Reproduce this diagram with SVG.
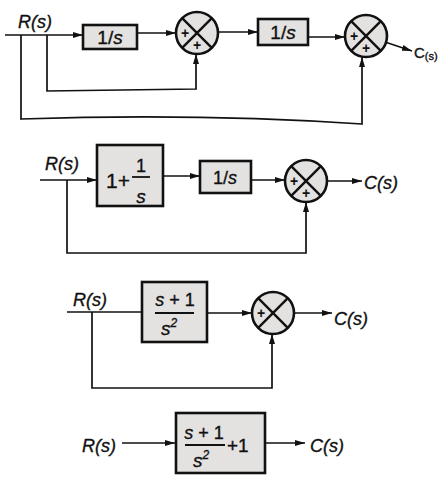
<svg xmlns="http://www.w3.org/2000/svg" width="441" height="481" viewBox="0 0 441 481">
<style>
.ln{fill:none;stroke:#111;stroke-width:1.7}
.arr{marker-end:url(#ah)}
.box{fill:#e4e2e0;stroke:#111;stroke-width:2.6}
.sum{fill:#e4e2e0;stroke:#111;stroke-width:2.6}
.x{stroke:#111;stroke-width:2.4}
.t{font-family:"Liberation Sans",Arial,sans-serif;fill:#111;stroke:#111;stroke-width:0.35}
.i{font-style:italic}
.pl{font-family:"Liberation Sans",Arial,sans-serif;font-size:14px;font-weight:bold;fill:#111;text-anchor:middle}
</style>
<defs>
<marker id="ah" viewBox="0 0 10 6" refX="10" refY="3" markerWidth="10" markerHeight="6" markerUnits="userSpaceOnUse" orient="auto">
<path d="M0,0 L10,3 L0,6 Z" fill="#111"/>
</marker>
</defs>
<rect width="441" height="481" fill="#fff"/>

<g id="connectors">
<!-- diagram 1 -->
<path class="ln arr" d="M5,35 H83"/>
<path class="ln arr" d="M137,33 H176"/>
<path class="ln arr" d="M218,32 H258"/>
<path class="ln arr" d="M308,37 H345"/>
<path class="ln arr" d="M385,42 L412,51"/>
<path class="ln arr" d="M47,35 V91 L196,89 V54"/>
<path class="ln arr" d="M21,35 V119 Q200,113 362,124 V57"/>
<!-- diagram 2 -->
<path class="ln arr" d="M40,180 H97"/>
<path class="ln arr" d="M163,176 H200"/>
<path class="ln arr" d="M251,180 H285"/>
<path class="ln arr" d="M327,181 H362"/>
<path class="ln arr" d="M67,180 V253 H306 V202"/>
<!-- diagram 3 -->
<path class="ln" d="M67,312 H142"/>
<path class="ln arr" d="M207,313 H252"/>
<path class="ln arr" d="M294,313 H332"/>
<path class="ln arr" d="M92,312 V388 H272 V334"/>
<!-- diagram 4 -->
<path class="ln arr" d="M122,443 H175"/>
<path class="ln arr" d="M265,443 H305"/>
</g>

<!-- diagram 1 nodes -->
<g id="d1-R"><text class="t i" x="18" y="28" font-size="18">R(s)</text></g>
<g id="d1-box1">
<rect class="box" x="83" y="25" width="54" height="24"/>
<text class="t" x="110" y="44" font-size="19" text-anchor="middle">1/<tspan class="i">s</tspan></text>
</g>
<g id="d1-sum1">
<circle class="sum" cx="197" cy="33" r="21"/>
<path class="x" d="M182.2,18.2 L211.8,47.8 M211.8,18.2 L182.2,47.8"/>
<text class="pl" x="185" y="38">+</text>
<text class="pl" x="197" y="50">+</text>
</g>
<g id="d1-box2">
<rect class="box" x="258" y="19" width="50" height="26"/>
<text class="t" x="283" y="39" font-size="19" text-anchor="middle">1/<tspan class="i">s</tspan></text>
</g>
<g id="d1-sum2">
<circle class="sum" cx="366" cy="36" r="21"/>
<path class="x" d="M351.2,21.2 L380.8,50.8 M380.8,21.2 L351.2,50.8"/>
<text class="pl" x="354" y="41">+</text>
<text class="pl" x="366" y="53">+</text>
</g>
<g id="d1-C"><text class="t" x="414" y="58" font-size="15">C<tspan font-size="11" dy="2">(s)</tspan></text></g>

<!-- diagram 2 nodes -->
<g id="d2-R"><text class="t i" x="45" y="170" font-size="18">R(s)</text></g>
<g id="d2-box1">
<rect class="box" x="97" y="145" width="66" height="61"/>
<text class="t" x="106" y="188" font-size="21">1+</text>
<text class="t" x="141" y="172" font-size="18" text-anchor="middle">1</text>
<line x1="132" y1="177" x2="150" y2="177" stroke="#111" stroke-width="1.8"/>
<text class="t i" x="141" y="203" font-size="19" text-anchor="middle">s</text>
</g>
<g id="d2-box2">
<rect class="box" x="200" y="161" width="51" height="32"/>
<text class="t" x="225" y="184" font-size="18" text-anchor="middle">1/<tspan class="i">s</tspan></text>
</g>
<g id="d2-sum">
<circle class="sum" cx="306" cy="181" r="21"/>
<path class="x" d="M291.2,166.2 L320.8,195.8 M320.8,166.2 L291.2,195.8"/>
<text class="pl" x="294" y="186">+</text>
<text class="pl" x="306" y="198">+</text>
</g>
<g id="d2-C"><text class="t i" x="364" y="189" font-size="18">C(s)</text></g>

<!-- diagram 3 nodes -->
<g id="d3-R"><text class="t i" x="73" y="306" font-size="18">R(s)</text></g>
<g id="d3-box">
<rect class="box" x="142" y="282" width="65" height="60"/>
<text class="t" x="175" y="306" font-size="18" text-anchor="middle"><tspan class="i">s</tspan> + 1</text>
<line x1="155" y1="313" x2="194" y2="313" stroke="#111" stroke-width="1.8"/>
<text class="t i" x="161" y="335" font-size="19">s<tspan font-size="12" dy="-8">2</tspan></text>
</g>
<g id="d3-sum">
<circle class="sum" cx="273" cy="313" r="21"/>
<path class="x" d="M258.2,298.2 L287.8,327.8 M287.8,298.2 L258.2,327.8"/>
<text class="pl" x="261" y="318">+</text>
</g>
<g id="d3-C"><text class="t i" x="334" y="325" font-size="18">C(s)</text></g>

<!-- diagram 4 nodes -->
<g id="d4-R"><text class="t i" x="82" y="452" font-size="18">R(s)</text></g>
<g id="d4-box">
<rect class="box" x="176" y="413" width="89" height="60"/>
<text class="t" x="204" y="439" font-size="18" text-anchor="middle"><tspan class="i">s</tspan> + 1</text>
<line x1="185" y1="445" x2="225" y2="445" stroke="#111" stroke-width="1.8"/>
<text class="t i" x="193" y="467" font-size="19">s<tspan font-size="12" dy="-8">2</tspan></text>
<text class="t" x="227" y="452" font-size="19">+1</text>
</g>
<g id="d4-C"><text class="t i" x="310" y="452" font-size="18">C(s)</text></g>
</svg>
